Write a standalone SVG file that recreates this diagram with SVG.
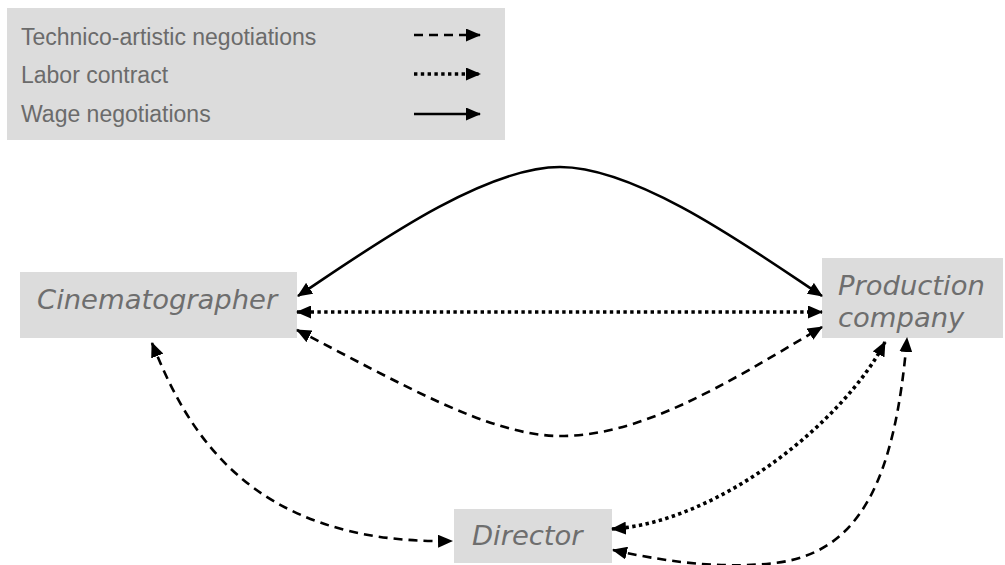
<svg xmlns="http://www.w3.org/2000/svg" width="1005" height="565" viewBox="0 0 1005 565">
  <defs>
    <marker id="head" markerUnits="userSpaceOnUse" markerWidth="15" markerHeight="13" refX="14" refY="6.5" orient="auto-start-reverse" viewBox="0 0 15 13">
      <path d="M0,0 L15,6.5 L0,13 z" fill="#000"/>
    </marker>
    <style>
      .box { fill: #dcdcdc; }
      .legend-text { font-family: "Liberation Sans", Arial, sans-serif; font-size: 23px; fill: #6b6b6b; }
      .node-text { font-family: "DejaVu Sans", Verdana, sans-serif; font-style: italic; font-size: 27.4px; fill: #6e6e6e; }
      .link { fill: none; stroke: #000; stroke-width: 2.6; }
      .dashed { stroke-dasharray: 9 6; }
      .dotted { stroke-dasharray: 3.4 3.4; stroke-width: 3.6; }
      .both { marker-start: url(#head); marker-end: url(#head); }
      .one { marker-end: url(#head); }
    </style>
  </defs>

  <!-- Legend -->
  <g id="legend">
    <rect class="box" x="7" y="8" width="498" height="132"/>
    <text class="legend-text" x="21" y="45">Technico-artistic negotiations</text>
    <text class="legend-text" x="21" y="83">Labor contract</text>
    <text class="legend-text" x="21" y="122">Wage negotiations</text>
    <path class="link dashed one" d="M414 35 H480"/>
    <path class="link dotted one" d="M414 74 H480"/>
    <path class="link one" d="M414 114 H480"/>
  </g>

  <!-- Nodes -->
  <g id="cinematographer">
    <rect class="box" x="20" y="272" width="277" height="66"/>
    <text class="node-text" x="37" y="309">Cinematographer</text>
  </g>
  <g id="production">
    <rect class="box" x="822" y="258" width="181" height="80"/>
    <text class="node-text" x="838" y="295">Production</text>
    <text class="node-text" x="838" y="327">company</text>
  </g>
  <g id="director">
    <rect class="box" x="454" y="509" width="158" height="54"/>
    <text class="node-text" x="472" y="545">Director</text>
  </g>

  <!-- Connectors -->
  <g id="connectors">
    <!-- wage negotiations -->
    <path class="link both" d="M298 296 C360 255 480 167 560 167 C640 167 760 255 822 296"/>
    <!-- labor contract -->
    <path class="link dotted both" d="M297 312 H822"/>
    <!-- technico-artistic: cinematographer / production -->
    <path class="link dashed both" d="M297 330 C400 383 490 436 560 436 C640 436 720 388 822 327"/>
    <!-- technico-artistic: cinematographer / director -->
    <path class="link dashed both" d="M152 343 C185 425 245 545 452 541"/>
    <!-- labor contract: director / production -->
    <path class="link dotted both" d="M612 529 C720 522 845 420 885 342"/>
    <!-- technico-artistic: director / production -->
    <path class="link dashed both" d="M613 550 C680 565 730 568 775 563 C860 553 895 480 907 338"/>
  </g>
</svg>
